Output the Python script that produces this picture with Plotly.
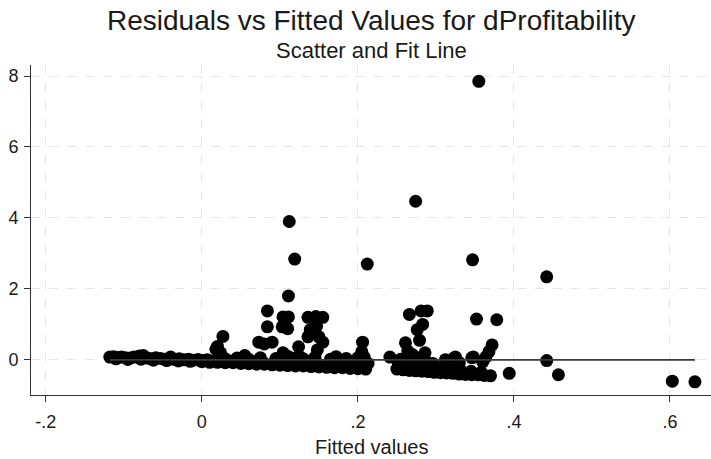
import plotly.graph_objects as go

# Fitted values and residuals from the dProfitability regression
fitted = [
    # raised observations
    0.355, 0.274, 0.112, 0.119, 0.212, 0.347, 0.442, 0.111, 0.084, 0.104, 0.111,
    0.084, 0.103, 0.110, 0.073, 0.090, 0.080, 0.124, 0.104,
    0.136, 0.146, 0.155, 0.139, 0.147, 0.136, 0.150, 0.155, 0.148,
    0.027, 0.020, 0.018, 0.024, 0.110,
    0.206, 0.205, 0.208, 0.199, 0.213, 0.241,
    0.266, 0.281, 0.289, 0.283, 0.276, 0.279, 0.261, 0.264, 0.286, 0.270,
    0.352, 0.378, 0.372, 0.368, 0.364, 0.348, 0.325, 0.312,
    0.394, 0.442, 0.457, 0.603, 0.632,
    # low fitted values
    -0.118, -0.113, -0.108, -0.103, -0.098, -0.092, -0.087, -0.081, -0.075, -0.070,
    -0.065, -0.059, -0.053, -0.047, -0.041, -0.035, -0.029, -0.023, -0.017, -0.011,
    -0.005, 0.001, 0.007, 0.013,
    -0.110, -0.095, -0.078, -0.062, -0.045, -0.030, -0.015, 0.000, 0.010,
    -0.080, -0.040, -0.075,
    # middle fitted values
    0.020, 0.030, 0.040, 0.050, 0.060, 0.070, 0.080, 0.090, 0.100, 0.110,
    0.120, 0.130, 0.140, 0.150, 0.160, 0.170, 0.180, 0.190, 0.200, 0.210,
    0.025, 0.038, 0.052, 0.066, 0.079, 0.093, 0.107, 0.121, 0.134, 0.148,
    0.162, 0.176, 0.190, 0.204,
    0.030, 0.045, 0.060, 0.075, 0.095, 0.115, 0.130, 0.145, 0.165, 0.185, 0.200,
    0.055, 0.125, 0.172,
    # high fitted values
    0.250, 0.258, 0.266, 0.274, 0.282, 0.290, 0.298, 0.306, 0.314, 0.322,
    0.330, 0.338, 0.346, 0.354, 0.362, 0.370,
    0.252, 0.262, 0.272, 0.282, 0.292, 0.305, 0.318, 0.332, 0.345, 0.358,
    0.255, 0.268, 0.278, 0.288, 0.296,
    0.323, 0.346, 0.330, 0.360,
]

residuals = [
    7.85, 4.47, 3.90, 2.84, 2.70, 2.82, 2.34, 1.80, 1.38, 1.21, 1.21,
    0.93, 0.93, 0.88, 0.50, 0.50, 0.45, 0.37, 0.20,
    1.20, 1.22, 1.20, 0.85, 0.95, 0.65, 0.65, 0.50, 0.28,
    0.66, 0.38, 0.30, 0.20, 0.10,
    0.50, 0.23, 0.08, -0.14, -0.10, 0.08,
    1.28, 1.38, 1.38, 1.00, 0.85, 0.55, 0.48, 0.25, 0.20, 0.15,
    1.15, 1.13, 0.42, 0.23, 0.08, 0.08, 0.08, 0.00,
    -0.38, -0.02, -0.42, -0.60, -0.62,
    0.08, 0.09, 0.07, 0.08, 0.06, 0.05, 0.08, 0.06, 0.07, 0.05,
    0.03, 0.06, 0.04, 0.02, 0.03, 0.01, 0.03, 0.00, 0.02, -0.01,
    0.01, -0.02, 0.00, -0.03,
    0.03, 0.01, 0.02, -0.01, -0.02, -0.03, -0.04, -0.05, -0.07,
    0.11, 0.08, 0.12,
    -0.07, -0.08, -0.08, -0.10, -0.11, -0.12, -0.12, -0.14, -0.15, -0.16,
    -0.17, -0.17, -0.19, -0.20, -0.21, -0.22, -0.22, -0.24, -0.25, -0.26,
    -0.03, -0.04, -0.06, -0.05, -0.08, -0.07, -0.09, -0.10, -0.11, -0.12,
    -0.14, -0.15, -0.16, -0.18,
    0.03, 0.05, 0.02, 0.06, 0.04, 0.05, 0.03, 0.07, 0.02, 0.04, 0.06,
    0.12, 0.10, 0.09,
    -0.26, -0.28, -0.30, -0.31, -0.32, -0.33, -0.35, -0.36, -0.37, -0.38,
    -0.40, -0.41, -0.42, -0.42, -0.44, -0.45,
    -0.10, -0.15, -0.12, -0.20, -0.22, -0.25, -0.28, -0.30, -0.32, -0.35,
    0.02, -0.03, 0.05, -0.05, -0.10,
    0.05, 0.06, -0.08, -0.06,
]

# OLS residuals are orthogonal to the fitted values, so the linear fit is flat at zero
fit_intercept = 0.0
fit_slope = 0.0

x_ticks = [-0.2, 0, 0.2, 0.4, 0.6]
x_tick_labels = ["-.2", "0", ".2", ".4", ".6"]
y_ticks = [0, 2, 4, 6, 8]
y_tick_labels = ["0", "2", "4", "6", "8"]

title_text = "Residuals vs Fitted Values for dProfitability"
subtitle_text = "Scatter and Fit Line"
x_title_text = "Fitted values"

fit_x = [min(fitted), max(fitted)]
fit_y = [fit_intercept + fit_slope * v for v in fit_x]

FONT = "Liberation Sans, Arial, sans-serif"
INK = "#1a1a1a"

fig = go.Figure()
fig.add_trace(go.Scatter(
    x=fitted, y=residuals, mode="markers",
    marker=dict(color="black", size=13, line=dict(width=0)),
    showlegend=False,
))
fig.add_trace(go.Scatter(
    x=fit_x, y=fit_y, mode="lines",
    line=dict(color="#3a3a3a", width=1.8),
    showlegend=False,
))

axis_common = dict(
    showline=True, linecolor="#333333", linewidth=1,
    ticks="outside", ticklen=6, tickcolor="#333333", tickwidth=1,
    showgrid=True, gridcolor="#e6e6e6", gridwidth=1, griddash="dash",
    zeroline=False, automargin=False,
    tickfont=dict(family=FONT, size=18, color=INK),
)

fig.update_layout(
    template="none",
    width=711, height=459,
    margin=dict(l=31, r=0, t=65, b=64),
    paper_bgcolor="white", plot_bgcolor="white",
    xaxis=dict(
        range=[-0.219, 0.6526],
        tickvals=x_ticks, ticktext=x_tick_labels,
        ticklabelstandoff=4,
        **axis_common,
    ),
    yaxis=dict(
        range=[-0.99, 8.31],
        tickvals=y_ticks, ticktext=y_tick_labels,
        ticklabelstandoff=2,
        **axis_common,
    ),
    annotations=[
        dict(text=title_text, xref="paper", yref="paper", x=0.5, y=1.135,
             xanchor="center", yanchor="middle", showarrow=False,
             font=dict(family=FONT, size=28, color=INK)),
        dict(text=subtitle_text, xref="paper", yref="paper", x=0.5, y=1.045,
             xanchor="center", yanchor="middle", showarrow=False,
             font=dict(family=FONT, size=22, color=INK)),
        dict(text=x_title_text, xref="paper", yref="paper", x=0.5, y=-0.158,
             xanchor="center", yanchor="middle", showarrow=False,
             font=dict(family=FONT, size=20, color=INK)),
    ],
)

fig.write_html("out.html")
